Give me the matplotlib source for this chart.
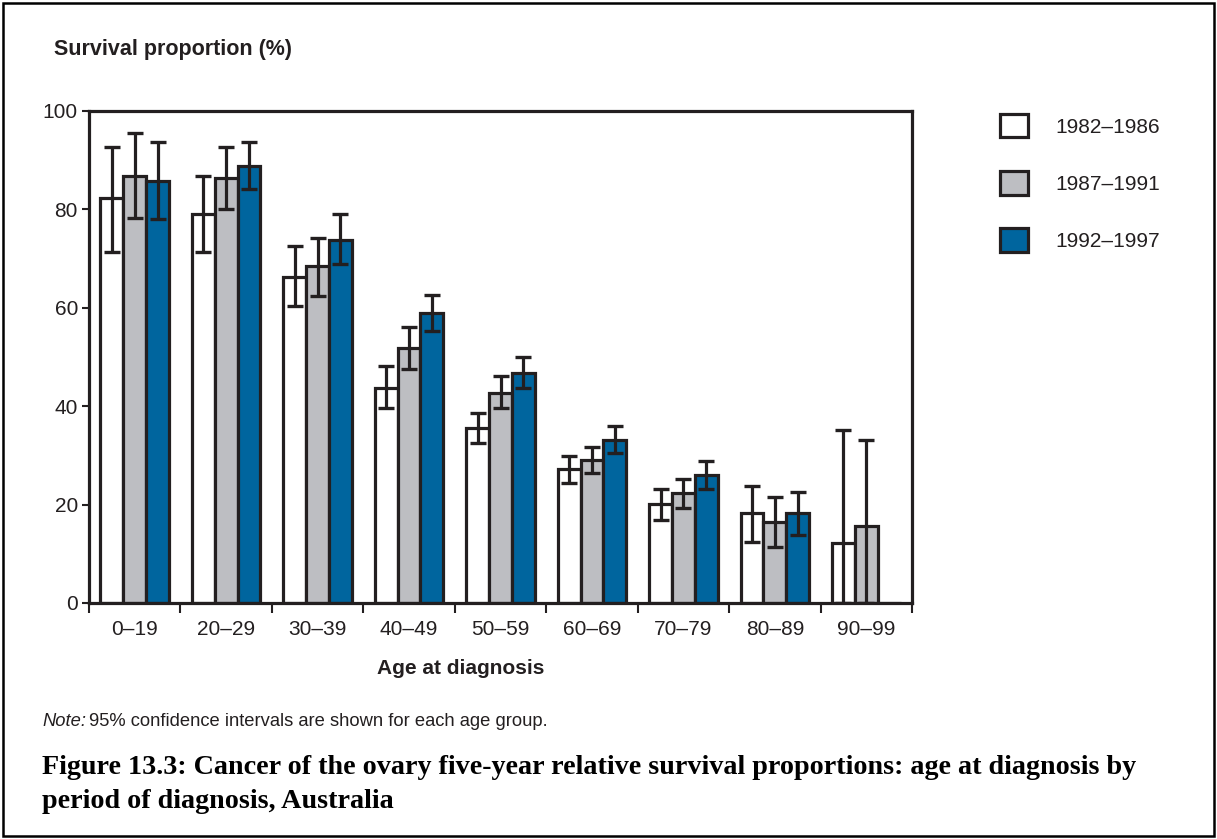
import matplotlib
matplotlib.use("Agg")
import matplotlib.pyplot as plt
import numpy as np
from matplotlib.patches import Rectangle, Patch

# ---------------- data ----------------
age_groups = ["0–19", "20–29", "30–39", "40–49", "50–59", "60–69", "70–79", "80–89", "90–99"]
periods = ["1982–1986", "1987–1991", "1992–1997"]

surv_1982 = [82.3, 79.1, 66.3, 43.8, 35.5, 27.2, 20.1, 18.2, 12.1]
low_1982 = [71.4, 71.3, 60.4, 39.6, 32.5, 24.3, 16.9, 12.3, 0.0]
high_1982 = [92.7, 86.8, 72.6, 48.2, 38.7, 29.9, 23.2, 23.8, 35.2]

surv_1987 = [86.8, 86.3, 68.4, 51.8, 42.7, 29.1, 22.3, 16.5, 15.7]
low_1987 = [78.2, 80.0, 62.5, 47.6, 39.6, 26.5, 19.4, 11.4, 0.0]
high_1987 = [95.5, 92.6, 74.2, 56.0, 46.1, 31.8, 25.2, 21.6, 33.1]

surv_1992 = [85.8, 88.8, 73.8, 59.0, 46.8, 33.2, 26.0, 18.2, 0.0]
low_1992 = [78.0, 84.1, 68.9, 55.3, 43.8, 30.4, 23.2, 13.8, np.nan]
high_1992 = [93.7, 93.7, 79.0, 62.6, 49.9, 36.0, 28.9, 22.5, np.nan]

y_ticks = [0, 20, 40, 60, 80, 100]

# ---------------- style ----------------
W, H = 1217, 839
DPI = 100
dark = "#231F20"
colors = ["#FFFFFF", "#BDBEC2", "#00659E"]
sans = ["Liberation Sans", "DejaVu Sans"]
plt.rcParams["font.family"] = sans

fig = plt.figure(figsize=(W / DPI, H / DPI), dpi=DPI)
ax = fig.add_axes([89 / W, 1 - 603 / H, (912 - 89) / W, (603 - 111) / H])

x = np.arange(len(age_groups))
width = 0.25
offsets = [-0.25, 0.0, 0.25]
series = [
    (surv_1982, low_1982, high_1982),
    (surv_1987, low_1987, high_1987),
    (surv_1992, low_1992, high_1992),
]

for (vals, lo, hi), off, col, lab in zip(series, offsets, colors, periods):
    vals = np.array(vals, dtype=float)
    lo = np.array(lo, dtype=float)
    hi = np.array(hi, dtype=float)
    ax.bar(x + off, vals, width, color=col, edgecolor=dark, linewidth=2.3,
           label=lab, zorder=2)
    yerr = np.vstack([vals - lo, hi - vals])
    ax.errorbar(x + off, vals, yerr=yerr, fmt="none", ecolor=dark,
                elinewidth=2.3, capsize=5.8, capthick=2.4, zorder=3)

ax.set_xlim(-0.5, len(age_groups) - 0.5)
ax.set_ylim(0, 100)
ax.set_yticks(y_ticks)
ax.set_yticklabels([str(t) for t in y_ticks], fontsize=15, color=dark)
ax.tick_params(axis="y", direction="out", length=5, width=1.5, color=dark, pad=3)

# x ticks: marks at group boundaries, labels at centres
ax.set_xticks(np.arange(len(age_groups) + 1) - 0.5)
ax.set_xticklabels([])
ax.tick_params(axis="x", which="major", direction="out", length=7, width=1.5, color=dark)
ax.set_xticks(x, minor=True)
ax.set_xticklabels(age_groups, minor=True, fontsize=15, color=dark)
ax.tick_params(axis="x", which="minor", length=0, pad=12)

for s in ax.spines.values():
    s.set_linewidth(2.3)
    s.set_color(dark)

# x axis title
fig.text(461 / W, 1 - 668 / H, "Age at diagnosis", fontsize=15, fontweight="bold",
         color=dark, ha="center", va="center")

# y axis title
fig.text(54 / W, 1 - 49 / H, "Survival proportion (%)", fontsize=15.5, fontweight="bold",
         color=dark, ha="left", va="center")

# legend
handles = [Patch(facecolor=c, edgecolor=dark, linewidth=2.3, label=l) for c, l in zip(colors, periods)]
leg = fig.legend(handles=handles, loc="upper left", bbox_to_anchor=(1000 / W, 1 - 114 / H),
                 frameon=False, fontsize=15, handlelength=1.35, handleheight=1.35,
                 handletextpad=1.3, labelspacing=1.62, borderpad=0, borderaxespad=0)
for t in leg.get_texts():
    t.set_color(dark)

# note
fig.text(42 / W, 1 - 721 / H, "Note:", fontsize=13.2, style="italic", color=dark,
         ha="left", va="center")
fig.text(89 / W, 1 - 721 / H, "95% confidence intervals are shown for each age group.",
         fontsize=13.2, color=dark, ha="left", va="center")

# caption
serif = ["Liberation Serif", "DejaVu Serif"]
cap1 = fig.text(42 / W, 1 - 767 / H,
                "Figure 13.3: Cancer of the ovary five-year relative survival proportions: age at diagnosis by",
                fontsize=18, fontweight="bold", family=serif, color="black", ha="left", va="center")
cap2 = fig.text(42 / W, 1 - 801 / H, "period of diagnosis, Australia",
                fontsize=18, fontweight="bold", family=serif, color="black", ha="left", va="center")

# fit caption width to ~1094 px
fig.canvas.draw()
r = fig.canvas.get_renderer()
wpx = cap1.get_window_extent(r).width
fs = 18 * 1094 / wpx
cap1.set_fontsize(fs)
cap2.set_fontsize(fs)

# outer frame
fig.patches.append(Rectangle((3 / W, 3 / H), (W - 6) / W, (H - 6) / H, transform=fig.transFigure,
                             fill=False, edgecolor="black", linewidth=1.8))

fig.savefig("out.png", dpi=DPI)
